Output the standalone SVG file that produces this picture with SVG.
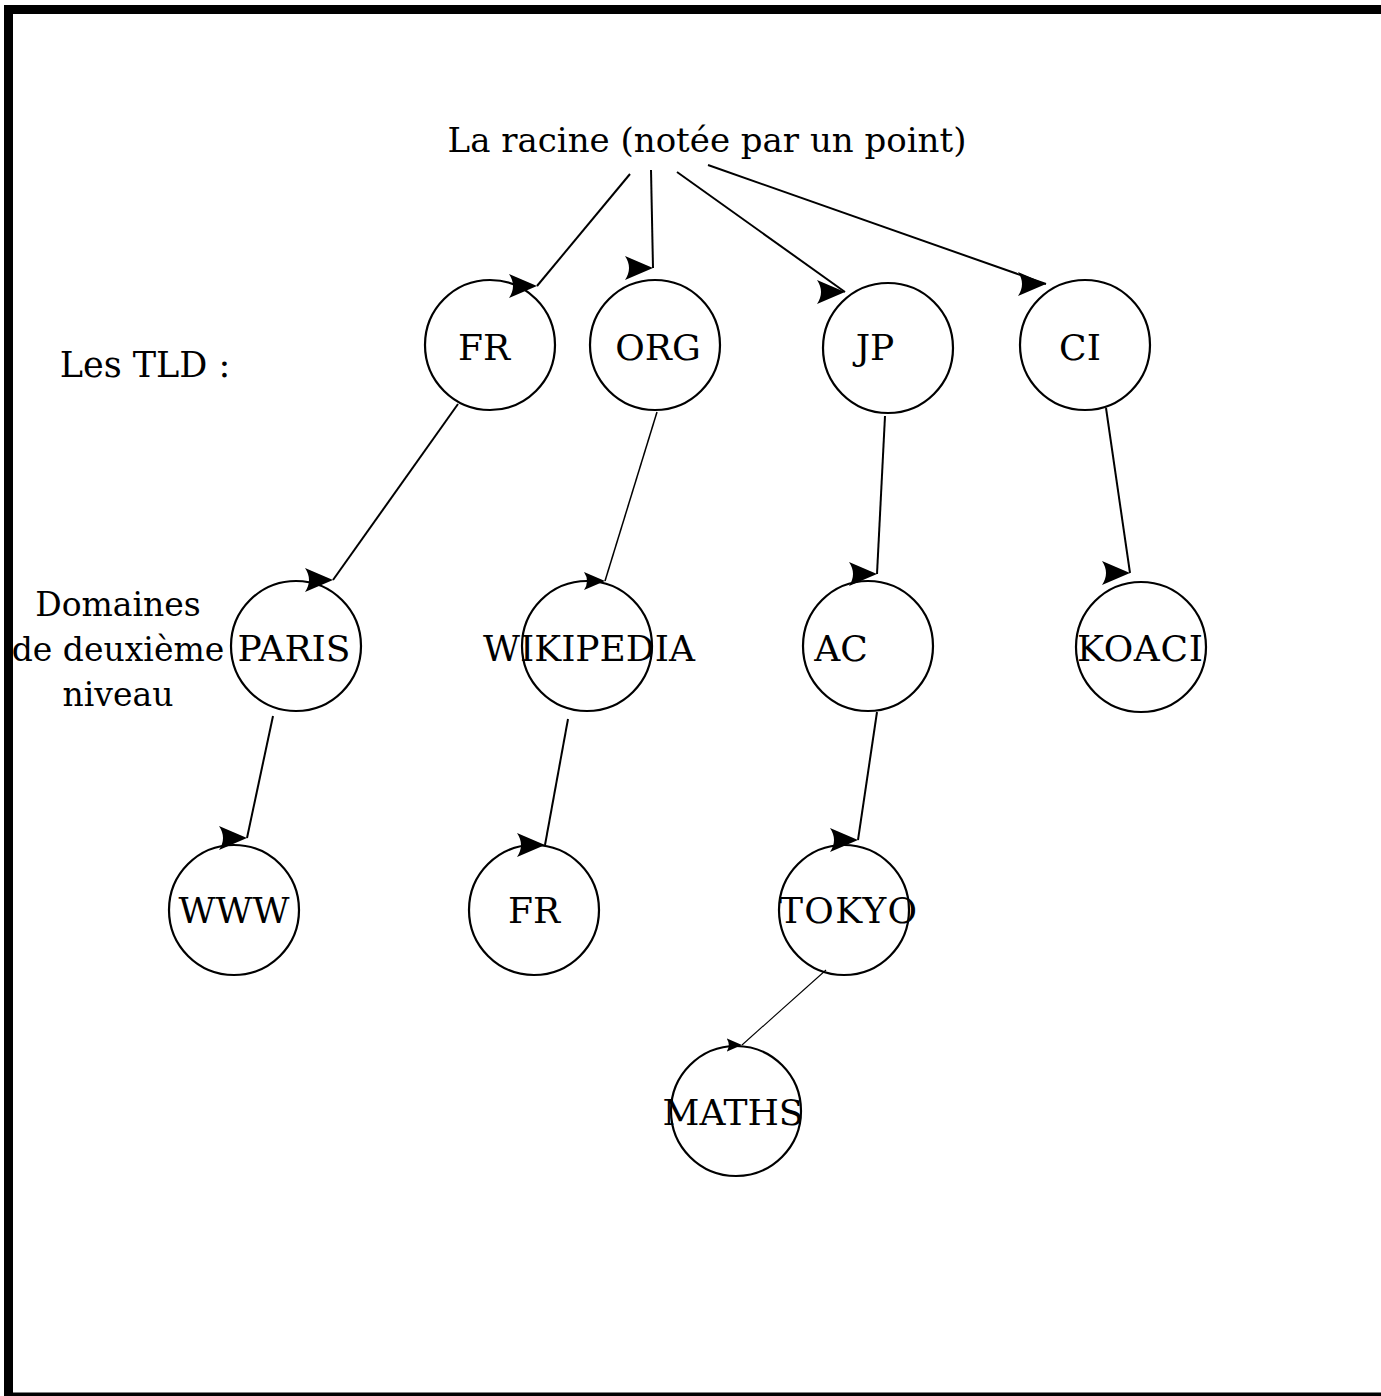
<svg xmlns="http://www.w3.org/2000/svg" width="1381" height="1396" viewBox="0 0 1381 1396">
<style>
.n circle{fill:none;stroke:#000;stroke-width:2.2}
text{font-family:"DejaVu Serif","Liberation Serif",serif;font-size:33px;fill:#000;text-anchor:middle}
.n text{font-size:36px}
.e line{stroke:#000;stroke-width:2;marker-end:url(#ah)}
</style>
<defs>
<marker id="ah" viewBox="0 0 14 12" markerWidth="14" markerHeight="12" refX="14" refY="6" orient="0" markerUnits="strokeWidth">
<path d="M0,0 L14,6 L0,12 Q4,6 0,0 Z" fill="#000"/>
</marker>
</defs>
<rect x="0" y="0" width="1381" height="1396" fill="#fff"/>
<rect x="8.5" y="9.5" width="1400" height="1387.5" fill="none" stroke="#000" stroke-width="9"/>
<g id="labels">
<text x="707" y="152" style="font-size:34px">La racine (notée par un point)</text>
<text x="145" y="377" style="font-size:35px">Les TLD :</text>
<text x="118" y="616">Domaines</text>
<text x="118" y="661">de deuxième</text>
<text x="118" y="706">niveau</text>
</g>
<g class="e" id="connectors">
<line x1="630" y1="174" x2="537" y2="286"/>
<line x1="651" y1="170" x2="653" y2="268"/>
<line x1="677" y1="172" x2="845" y2="292"/>
<line x1="708" y1="165" x2="1046" y2="284"/>
<line x1="458" y1="404" x2="333" y2="580"/>
<line x1="657" y1="412" x2="605" y2="581" style="stroke-width:1.5"/>
<line x1="885" y1="416" x2="877" y2="574"/>
<line x1="1106" y1="408" x2="1130" y2="573"/>
<line x1="273" y1="716" x2="247" y2="838"/>
<line x1="568" y1="719" x2="545" y2="845"/>
<line x1="877" y1="712" x2="858" y2="840"/>
<line x1="826" y1="970" x2="742" y2="1045" style="stroke-width:1.1"/>
</g>
<g class="n" id="n-fr"><circle cx="490" cy="345" r="65"/><text x="484" y="360">FR</text></g>
<g class="n" id="n-org"><circle cx="655" cy="345" r="65"/><text x="658" y="360">ORG</text></g>
<g class="n" id="n-jp"><circle cx="888" cy="348" r="65"/><text x="875" y="360">JP</text></g>
<g class="n" id="n-ci"><circle cx="1085" cy="345" r="65"/><text x="1080" y="360">CI</text></g>
<g class="n" id="n-paris"><circle cx="296" cy="646" r="65"/><text x="294" y="661">PARIS</text></g>
<g class="n" id="n-wikipedia"><circle cx="587" cy="646" r="65"/><text x="589" y="661">WIKIPEDIA</text></g>
<g class="n" id="n-ac"><circle cx="868" cy="646" r="65"/><text x="841" y="661">AC</text></g>
<g class="n" id="n-koaci"><circle cx="1141" cy="647" r="65"/><text x="1140" y="661" textLength="126">KOACI</text></g>
<g class="n" id="n-www"><circle cx="234" cy="910" r="65"/><text x="234" y="923">WWW</text></g>
<g class="n" id="n-fr2"><circle cx="534" cy="910" r="65"/><text x="534" y="923">FR</text></g>
<g class="n" id="n-tokyo"><circle cx="844" cy="910" r="65"/><text x="848" y="923" textLength="138">TOKYO</text></g>
<g class="n" id="n-maths"><circle cx="736" cy="1111" r="65"/><text x="733" y="1125">MATHS</text></g>
</svg>
